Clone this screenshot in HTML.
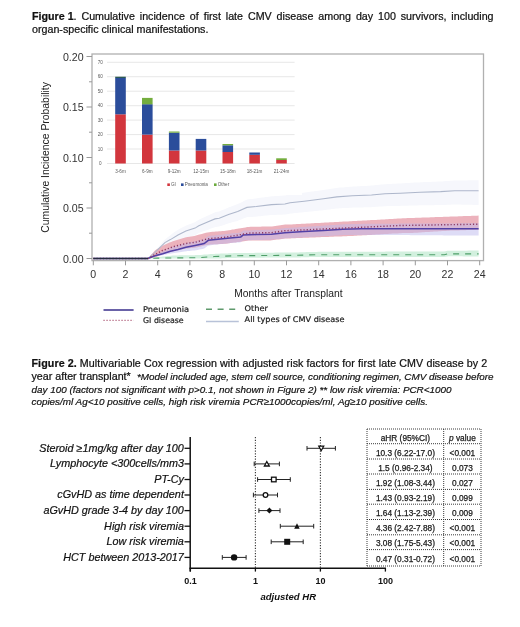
<!DOCTYPE html>
<html><head><meta charset="utf-8"><style>
html,body{margin:0;padding:0;background:#fff;}
svg{display:block;}
text{font-family:"Liberation Sans",Arial,sans-serif;fill:#222;}
.cap{font-size:10.7px;fill:#111;stroke:#111;stroke-width:0.22px;}
.it{font-size:9.9px;font-style:italic;fill:#111;stroke:#111;stroke-width:0.2px;}
.ax{font-size:10.6px;fill:#333;}
.ax2{font-size:10.7px;fill:#222;}
.lg{font-family:"DejaVu Sans",sans-serif;font-size:7.9px;fill:#1c1c1c;stroke:#1c1c1c;stroke-width:0.2px;}
.tiny{font-size:4.6px;fill:#5a5a5a;}
.fl{font-size:10.8px;font-style:italic;fill:#111;stroke:#111;stroke-width:0.2px;}
.fx{font-size:9px;font-weight:bold;fill:#111;}
.fxl{font-size:9.3px;font-weight:bold;font-style:italic;fill:#111;}
.tb{font-size:8.3px;fill:#1a1a1a;stroke:#1a1a1a;stroke-width:0.25px;}
</style></head><body>
<svg width="520" height="627" viewBox="0 0 520 627">
<path d="M148.0,258.5 L149.7,256.7 L151.3,255.0 L153.0,253.2 L154.7,251.4 L156.3,249.5 L158.0,247.6 L159.6,245.6 L161.3,243.7 L162.9,241.7 L164.6,239.8 L166.2,238.4 L167.9,237.1 L169.5,235.9 L171.2,234.6 L172.8,233.3 L174.5,232.0 L176.1,231.0 L177.8,229.9 L179.4,229.0 L181.1,228.1 L182.7,227.3 L184.4,226.4 L186.1,225.6 L187.7,225.0 L189.4,224.3 L191.0,223.7 L192.7,223.1 L194.3,222.5 L196.0,221.6 L197.6,220.5 L199.3,219.5 L200.9,218.7 L202.6,218.0 L204.2,217.3 L205.9,216.5 L207.5,215.8 L209.2,215.0 L210.8,214.2 L212.5,213.5 L214.1,212.7 L215.8,212.1 L217.5,211.8 L219.1,211.5 L220.8,210.8 L222.4,210.1 L224.1,209.4 L225.7,208.7 L227.4,208.0 L229.0,207.3 L230.7,206.7 L232.3,206.1 L234.0,205.5 L235.6,204.8 L237.3,204.2 L238.9,203.5 L240.6,202.7 L242.2,201.9 L243.9,201.1 L245.5,200.3 L247.2,199.6 L248.9,199.3 L250.5,199.1 L252.2,198.9 L253.8,198.7 L255.5,198.5 L257.1,198.3 L258.8,198.0 L260.4,197.8 L262.1,197.6 L263.7,197.4 L265.4,197.1 L267.0,196.9 L268.7,196.7 L270.3,196.5 L272.0,196.3 L273.6,196.2 L275.3,196.1 L276.9,196.0 L278.6,195.9 L280.3,195.8 L281.9,195.7 L283.6,195.6 L285.2,195.5 L286.9,195.1 L288.5,194.7 L290.2,194.4 L291.8,194.1 L293.5,193.9 L295.1,193.7 L296.8,193.5 L298.4,193.3 L300.1,193.1 L301.7,192.9 L303.4,192.7 L305.0,192.5 L306.7,192.3 L308.3,192.0 L310.0,191.8 L311.7,191.6 L313.3,191.4 L315.0,191.1 L316.6,190.9 L318.3,190.7 L319.9,190.4 L321.6,190.2 L323.2,190.0 L324.9,189.7 L326.5,189.5 L328.2,189.2 L329.8,189.0 L331.5,188.7 L333.1,188.5 L334.8,188.2 L336.4,188.0 L338.1,187.8 L339.7,187.6 L341.4,187.5 L343.1,187.4 L344.7,187.2 L346.4,187.1 L348.0,187.0 L349.7,186.8 L351.3,186.7 L353.0,186.6 L354.6,186.5 L356.3,186.4 L357.9,186.3 L359.6,186.2 L361.2,186.1 L362.9,186.0 L364.5,185.9 L366.2,185.9 L367.8,185.8 L369.5,185.7 L371.1,185.6 L372.8,185.4 L374.5,185.3 L376.1,185.1 L377.8,184.9 L379.4,184.8 L381.1,184.6 L382.7,184.4 L384.4,184.3 L386.0,184.2 L387.7,184.1 L389.3,184.0 L391.0,183.9 L392.6,183.8 L394.3,183.7 L395.9,183.7 L397.6,183.6 L399.2,183.5 L400.9,183.4 L402.6,183.3 L404.2,183.2 L405.9,183.1 L407.5,183.0 L409.2,182.9 L410.8,182.8 L412.5,182.7 L414.1,182.6 L415.8,182.6 L417.4,182.5 L419.1,182.4 L420.7,182.3 L422.4,182.2 L424.0,182.1 L425.7,182.1 L427.3,182.0 L429.0,181.9 L430.6,181.9 L432.3,181.8 L434.0,181.7 L435.6,181.7 L437.3,181.6 L438.9,181.5 L440.6,181.5 L442.2,181.4 L443.9,181.2 L445.5,181.1 L447.2,181.0 L448.8,180.9 L450.5,180.8 L452.1,180.7 L453.8,180.6 L455.4,180.5 L457.1,180.5 L458.7,180.5 L460.4,180.4 L462.0,180.4 L463.7,180.4 L465.4,180.4 L467.0,180.4 L468.7,180.3 L470.3,180.3 L472.0,180.3 L473.6,180.3 L475.3,180.3 L476.9,180.3 L478.6,180.2 L478.6,204.9 L476.9,204.9 L475.3,204.9 L473.6,204.9 L472.0,204.8 L470.3,204.8 L468.7,204.8 L467.0,204.7 L465.4,204.7 L463.7,204.7 L462.0,204.7 L460.4,204.6 L458.7,204.6 L457.1,204.6 L455.4,204.5 L453.8,204.6 L452.1,204.6 L450.5,204.7 L448.8,204.8 L447.2,204.8 L445.5,204.9 L443.9,204.9 L442.2,205.0 L440.6,205.1 L438.9,205.1 L437.3,205.1 L435.6,205.1 L434.0,205.2 L432.3,205.2 L430.6,205.2 L429.0,205.2 L427.3,205.2 L425.7,205.3 L424.0,205.3 L422.4,205.3 L420.7,205.3 L419.1,205.3 L417.4,205.4 L415.8,205.4 L414.1,205.5 L412.5,205.5 L410.8,205.6 L409.2,205.6 L407.5,205.7 L405.9,205.7 L404.2,205.8 L402.6,205.8 L400.9,205.8 L399.2,205.9 L397.6,205.9 L395.9,206.0 L394.3,206.0 L392.6,206.0 L391.0,206.1 L389.3,206.1 L387.7,206.1 L386.0,206.2 L384.4,206.2 L382.7,206.4 L381.1,206.5 L379.4,206.6 L377.8,206.7 L376.1,206.8 L374.5,207.0 L372.8,207.1 L371.1,207.2 L369.5,207.2 L367.8,207.3 L366.2,207.3 L364.5,207.3 L362.9,207.4 L361.2,207.4 L359.6,207.5 L357.9,207.5 L356.3,207.5 L354.6,207.6 L353.0,207.6 L351.3,207.7 L349.7,207.8 L348.0,207.9 L346.4,208.0 L344.7,208.0 L343.1,208.1 L341.4,208.2 L339.7,208.3 L338.1,208.4 L336.4,208.5 L334.8,208.7 L333.1,208.9 L331.5,209.1 L329.8,209.4 L328.2,209.6 L326.5,209.8 L324.9,210.0 L323.2,210.2 L321.6,210.4 L319.9,210.5 L318.3,210.7 L316.6,210.9 L315.0,211.1 L313.3,211.2 L311.7,211.4 L310.0,211.6 L308.3,211.8 L306.7,212.0 L305.0,212.1 L303.4,212.3 L301.7,212.5 L300.1,212.6 L298.4,212.8 L296.8,212.9 L295.1,213.1 L293.5,213.3 L291.8,213.4 L290.2,213.6 L288.5,213.9 L286.9,214.2 L285.2,214.5 L283.6,214.6 L281.9,214.7 L280.3,214.7 L278.6,214.8 L276.9,214.8 L275.3,214.9 L273.6,214.9 L272.0,215.0 L270.3,215.1 L268.7,215.3 L267.0,215.5 L265.4,215.6 L263.7,215.8 L262.1,216.0 L260.4,216.2 L258.8,216.3 L257.1,216.5 L255.5,216.7 L253.8,216.8 L252.2,216.9 L250.5,217.0 L248.9,217.0 L247.2,217.1 L245.5,217.7 L243.9,218.3 L242.2,219.0 L240.6,219.7 L238.9,220.3 L237.3,220.9 L235.6,221.4 L234.0,221.8 L232.3,222.3 L230.7,222.8 L229.0,223.2 L227.4,223.8 L225.7,224.3 L224.1,224.9 L222.4,225.5 L220.8,226.0 L219.1,226.6 L217.5,226.7 L215.8,226.9 L214.1,227.4 L212.5,228.0 L210.8,228.6 L209.2,229.2 L207.5,229.9 L205.9,230.5 L204.2,231.0 L202.6,231.6 L200.9,232.2 L199.3,232.8 L197.6,233.7 L196.0,234.7 L194.3,235.4 L192.7,235.9 L191.0,236.4 L189.4,236.8 L187.7,237.3 L186.1,237.7 L184.4,238.4 L182.7,239.2 L181.1,239.9 L179.4,240.6 L177.8,241.3 L176.1,242.3 L174.5,243.2 L172.8,244.0 L171.2,244.6 L169.5,245.2 L167.9,245.7 L166.2,246.2 L164.6,246.9 L162.9,248.1 L161.3,249.4 L159.6,250.6 L158.0,251.8 L156.3,253.1 L154.7,254.3 L153.0,255.3 L151.3,256.4 L149.7,257.4 L148.0,258.5 Z" fill="#f6f7fc"/>
<path d="M148.0,258.5 L149.7,256.6 L151.3,254.6 L153.0,252.7 L154.7,250.8 L156.3,249.6 L158.0,248.6 L159.6,247.5 L161.3,246.5 L162.9,245.5 L164.6,244.8 L166.2,244.1 L167.9,243.3 L169.5,242.6 L171.2,241.9 L172.8,241.3 L174.5,240.7 L176.1,240.2 L177.8,239.7 L179.4,239.2 L181.1,238.7 L182.7,238.2 L184.4,237.7 L186.1,237.2 L187.7,237.0 L189.4,236.7 L191.0,236.4 L192.7,236.2 L194.3,235.9 L196.0,235.5 L197.6,235.1 L199.3,234.6 L200.9,234.2 L202.6,233.7 L204.2,233.3 L205.9,232.8 L207.5,232.5 L209.2,232.2 L210.8,232.0 L212.5,231.8 L214.1,231.7 L215.8,231.6 L217.5,231.4 L219.1,231.3 L220.8,231.2 L222.4,231.0 L224.1,230.9 L225.7,230.7 L227.4,230.4 L229.0,230.2 L230.7,229.9 L232.3,229.6 L234.0,229.4 L235.6,229.1 L237.3,228.8 L238.9,228.5 L240.6,228.3 L242.2,228.0 L243.9,227.7 L245.5,227.4 L247.2,227.1 L248.9,226.9 L250.5,226.8 L252.2,226.8 L253.8,226.8 L255.5,226.8 L257.1,226.7 L258.8,226.7 L260.4,226.7 L262.1,226.6 L263.7,226.6 L265.4,226.6 L267.0,226.6 L268.7,226.5 L270.3,226.5 L272.0,226.4 L273.6,226.2 L275.3,226.0 L276.9,225.7 L278.6,225.5 L280.3,225.3 L281.9,225.1 L283.6,224.8 L285.2,224.6 L286.9,224.6 L288.5,224.5 L290.2,224.5 L291.8,224.4 L293.5,224.3 L295.1,224.2 L296.8,224.1 L298.4,224.0 L300.1,223.9 L301.7,223.8 L303.4,223.7 L305.0,223.7 L306.7,223.6 L308.3,223.5 L310.0,223.4 L311.7,223.3 L313.3,223.2 L315.0,223.1 L316.6,223.0 L318.3,223.0 L319.9,222.9 L321.6,222.8 L323.2,222.7 L324.9,222.6 L326.5,222.5 L328.2,222.4 L329.8,222.3 L331.5,222.3 L333.1,222.2 L334.8,222.1 L336.4,222.0 L338.1,221.9 L339.7,221.8 L341.4,221.7 L343.1,221.6 L344.7,221.5 L346.4,221.5 L348.0,221.4 L349.7,221.3 L351.3,221.2 L353.0,221.1 L354.6,221.0 L356.3,220.9 L357.9,220.8 L359.6,220.8 L361.2,220.7 L362.9,220.6 L364.5,220.5 L366.2,220.4 L367.8,220.3 L369.5,220.2 L371.1,220.1 L372.8,220.1 L374.5,220.0 L376.1,219.9 L377.8,219.8 L379.4,219.7 L381.1,219.6 L382.7,219.5 L384.4,219.4 L386.0,219.3 L387.7,219.2 L389.3,219.1 L391.0,219.0 L392.6,218.9 L394.3,218.8 L395.9,218.7 L397.6,218.6 L399.2,218.4 L400.9,218.4 L402.6,218.3 L404.2,218.2 L405.9,218.2 L407.5,218.1 L409.2,218.1 L410.8,218.0 L412.5,217.9 L414.1,217.9 L415.8,217.8 L417.4,217.8 L419.1,217.7 L420.7,217.7 L422.4,217.6 L424.0,217.5 L425.7,217.5 L427.3,217.4 L429.0,217.4 L430.6,217.3 L432.3,217.2 L434.0,217.2 L435.6,217.1 L437.3,217.1 L438.9,217.0 L440.6,216.9 L442.2,216.9 L443.9,216.8 L445.5,216.8 L447.2,216.7 L448.8,216.7 L450.5,216.6 L452.1,216.5 L453.8,216.5 L455.4,216.4 L457.1,216.4 L458.7,216.3 L460.4,216.2 L462.0,216.2 L463.7,216.1 L465.4,216.1 L467.0,216.0 L468.7,215.9 L470.3,215.9 L472.0,215.8 L473.6,215.8 L475.3,215.7 L476.9,215.7 L478.6,215.6 L478.6,229.7 L476.9,229.8 L475.3,229.8 L473.6,229.9 L472.0,229.9 L470.3,230.0 L468.7,230.1 L467.0,230.1 L465.4,230.2 L463.7,230.2 L462.0,230.3 L460.4,230.3 L458.7,230.4 L457.1,230.4 L455.4,230.5 L453.8,230.5 L452.1,230.6 L450.5,230.6 L448.8,230.7 L447.2,230.8 L445.5,230.9 L443.9,231.0 L442.2,231.1 L440.6,231.2 L438.9,231.3 L437.3,231.4 L435.6,231.5 L434.0,231.6 L432.3,231.7 L430.6,231.8 L429.0,231.9 L427.3,232.0 L425.7,232.1 L424.0,232.2 L422.4,232.3 L420.7,232.4 L419.1,232.6 L417.4,232.7 L415.8,232.8 L414.1,232.8 L412.5,232.9 L410.8,232.9 L409.2,233.0 L407.5,233.0 L405.9,233.1 L404.2,233.1 L402.6,233.1 L400.9,233.2 L399.2,233.3 L397.6,233.4 L395.9,233.5 L394.3,233.6 L392.6,233.6 L391.0,233.7 L389.3,233.8 L387.7,233.9 L386.0,234.0 L384.4,234.1 L382.7,234.2 L381.1,234.3 L379.4,234.4 L377.8,234.5 L376.1,234.6 L374.5,234.7 L372.8,234.8 L371.1,234.9 L369.5,235.0 L367.8,235.1 L366.2,235.2 L364.5,235.2 L362.9,235.3 L361.2,235.4 L359.6,235.5 L357.9,235.6 L356.3,235.7 L354.6,235.8 L353.0,235.9 L351.3,236.0 L349.7,236.1 L348.0,236.1 L346.4,236.2 L344.7,236.3 L343.1,236.3 L341.4,236.4 L339.7,236.5 L338.1,236.5 L336.4,236.6 L334.8,236.6 L333.1,236.7 L331.5,236.8 L329.8,236.8 L328.2,236.9 L326.5,237.0 L324.9,237.0 L323.2,237.1 L321.6,237.1 L319.9,237.2 L318.3,237.3 L316.6,237.3 L315.0,237.4 L313.3,237.5 L311.7,237.5 L310.0,237.6 L308.3,237.7 L306.7,237.7 L305.0,237.8 L303.4,237.8 L301.7,237.9 L300.1,238.0 L298.4,238.0 L296.8,238.1 L295.1,238.2 L293.5,238.2 L291.8,238.3 L290.2,238.4 L288.5,238.4 L286.9,238.5 L285.2,238.5 L283.6,238.7 L281.9,238.9 L280.3,239.2 L278.6,239.4 L276.9,239.6 L275.3,239.8 L273.6,240.1 L272.0,240.3 L270.3,240.4 L268.7,240.4 L267.0,240.4 L265.4,240.4 L263.7,240.5 L262.1,240.5 L260.4,240.5 L258.8,240.5 L257.1,240.6 L255.5,240.6 L253.8,240.6 L252.2,240.6 L250.5,240.6 L248.9,240.5 L247.2,240.7 L245.5,241.0 L243.9,241.2 L242.2,241.5 L240.6,241.7 L238.9,241.9 L237.3,242.1 L235.6,242.4 L234.0,242.6 L232.3,242.8 L230.7,243.0 L229.0,243.3 L227.4,243.5 L225.7,243.7 L224.1,243.8 L222.4,243.9 L220.8,244.0 L219.1,244.1 L217.5,244.2 L215.8,244.3 L214.1,244.3 L212.5,244.4 L210.8,244.5 L209.2,244.7 L207.5,245.0 L205.9,245.2 L204.2,245.6 L202.6,246.0 L200.9,246.4 L199.3,246.8 L197.6,247.2 L196.0,247.6 L194.3,247.8 L192.7,248.0 L191.0,248.1 L189.4,248.2 L187.7,248.4 L186.1,248.5 L184.4,248.8 L182.7,249.2 L181.1,249.5 L179.4,249.9 L177.8,250.2 L176.1,250.6 L174.5,251.0 L172.8,251.4 L171.2,251.8 L169.5,252.3 L167.9,252.7 L166.2,253.1 L164.6,253.6 L162.9,254.0 L161.3,254.7 L159.6,255.4 L158.0,256.2 L156.3,256.9 L154.7,257.5 L153.0,257.8 L151.3,258.0 L149.7,258.3 L148.0,258.5 Z" fill="#ecb2bc"/>
<path d="M148.0,258.5 L149.7,257.6 L151.3,256.7 L153.0,255.8 L154.7,254.9 L156.3,254.1 L158.0,253.4 L159.6,252.7 L161.3,252.1 L162.9,251.3 L164.6,250.5 L166.2,249.7 L167.9,248.9 L169.5,248.2 L171.2,247.4 L172.8,246.8 L174.5,246.3 L176.1,245.9 L177.8,245.5 L179.4,245.0 L181.1,244.6 L182.7,244.1 L184.4,243.6 L186.1,243.2 L187.7,242.8 L189.4,242.4 L191.0,242.1 L192.7,241.7 L194.3,241.4 L196.0,241.0 L197.6,240.7 L199.3,240.3 L200.9,240.0 L202.6,239.6 L204.2,239.3 L205.9,238.0 L207.5,236.7 L209.2,236.0 L210.8,235.8 L212.5,235.6 L214.1,235.4 L215.8,235.2 L217.5,235.0 L219.1,234.8 L220.8,234.7 L222.4,234.5 L224.1,234.3 L225.7,234.1 L227.4,233.9 L229.0,233.7 L230.7,233.5 L232.3,233.3 L234.0,233.2 L235.6,233.0 L237.3,232.9 L238.9,232.7 L240.6,232.5 L242.2,231.3 L243.9,230.6 L245.5,230.6 L247.2,230.5 L248.9,230.4 L250.5,230.4 L252.2,230.3 L253.8,230.2 L255.5,230.1 L257.1,230.1 L258.8,230.0 L260.4,230.0 L262.1,229.9 L263.7,229.9 L265.4,229.8 L267.0,229.8 L268.7,229.7 L270.3,229.7 L272.0,229.6 L273.6,229.4 L275.3,229.2 L276.9,229.0 L278.6,228.9 L280.3,228.7 L281.9,228.5 L283.6,228.3 L285.2,228.1 L286.9,228.0 L288.5,227.9 L290.2,227.8 L291.8,227.7 L293.5,227.6 L295.1,227.5 L296.8,227.4 L298.4,227.2 L300.1,227.1 L301.7,227.0 L303.4,226.9 L305.0,226.8 L306.7,226.7 L308.3,226.6 L310.0,226.5 L311.7,226.4 L313.3,226.3 L315.0,226.2 L316.6,226.1 L318.3,226.0 L319.9,225.9 L321.6,225.8 L323.2,225.7 L324.9,225.5 L326.5,225.4 L328.2,225.3 L329.8,225.2 L331.5,225.1 L333.1,225.0 L334.8,224.9 L336.4,224.8 L338.1,224.7 L339.7,224.5 L341.4,224.4 L343.1,224.3 L344.7,224.3 L346.4,224.2 L348.0,224.2 L349.7,224.2 L351.3,224.1 L353.0,224.1 L354.6,224.0 L356.3,224.0 L357.9,223.9 L359.6,223.9 L361.2,223.9 L362.9,223.8 L364.5,223.8 L366.2,223.8 L367.8,223.8 L369.5,223.8 L371.1,223.8 L372.8,223.8 L374.5,223.8 L376.1,223.8 L377.8,223.8 L379.4,223.7 L381.1,223.7 L382.7,223.7 L384.4,223.7 L386.0,223.7 L387.7,223.7 L389.3,223.7 L391.0,223.7 L392.6,223.7 L394.3,223.7 L395.9,223.7 L397.6,223.7 L399.2,223.6 L400.9,223.6 L402.6,223.6 L404.2,223.6 L405.9,223.6 L407.5,223.6 L409.2,223.6 L410.8,223.6 L412.5,223.6 L414.1,223.6 L415.8,223.6 L417.4,223.6 L419.1,223.6 L420.7,223.5 L422.4,223.5 L424.0,223.5 L425.7,223.5 L427.3,223.5 L429.0,223.5 L430.6,223.5 L432.3,223.5 L434.0,223.5 L435.6,223.5 L437.3,223.5 L438.9,223.5 L440.6,223.4 L442.2,223.4 L443.9,223.4 L445.5,223.4 L447.2,223.4 L448.8,223.4 L450.5,223.4 L452.1,223.4 L453.8,223.4 L455.4,223.4 L457.1,223.4 L458.7,223.4 L460.4,223.3 L462.0,223.3 L463.7,223.3 L465.4,223.3 L467.0,223.3 L468.7,223.3 L470.3,223.3 L472.0,223.3 L473.6,223.3 L475.3,223.3 L476.9,223.3 L478.6,223.3 L478.6,235.6 L476.9,235.6 L475.3,235.5 L473.6,235.5 L472.0,235.5 L470.3,235.5 L468.7,235.5 L467.0,235.5 L465.4,235.5 L463.7,235.5 L462.0,235.5 L460.4,235.5 L458.7,235.4 L457.1,235.4 L455.4,235.4 L453.8,235.4 L452.1,235.4 L450.5,235.4 L448.8,235.4 L447.2,235.4 L445.5,235.4 L443.9,235.4 L442.2,235.3 L440.6,235.3 L438.9,235.3 L437.3,235.3 L435.6,235.3 L434.0,235.3 L432.3,235.3 L430.6,235.3 L429.0,235.3 L427.3,235.3 L425.7,235.2 L424.0,235.2 L422.4,235.2 L420.7,235.2 L419.1,235.2 L417.4,235.2 L415.8,235.2 L414.1,235.2 L412.5,235.2 L410.8,235.2 L409.2,235.1 L407.5,235.1 L405.9,235.1 L404.2,235.1 L402.6,235.1 L400.9,235.1 L399.2,235.1 L397.6,235.1 L395.9,235.1 L394.3,235.1 L392.6,235.0 L391.0,235.0 L389.3,235.0 L387.7,235.0 L386.0,235.0 L384.4,235.0 L382.7,235.0 L381.1,235.0 L379.4,235.0 L377.8,235.0 L376.1,234.9 L374.5,234.9 L372.8,234.9 L371.1,234.9 L369.5,234.9 L367.8,234.9 L366.2,234.9 L364.5,234.9 L362.9,234.9 L361.2,234.9 L359.6,234.9 L357.9,234.9 L356.3,234.9 L354.6,235.0 L353.0,235.0 L351.3,235.0 L349.7,235.0 L348.0,235.1 L346.4,235.1 L344.7,235.1 L343.1,235.1 L341.4,235.2 L339.7,235.3 L338.1,235.4 L336.4,235.5 L334.8,235.6 L333.1,235.7 L331.5,235.8 L329.8,235.9 L328.2,236.0 L326.5,236.1 L324.9,236.2 L323.2,236.3 L321.6,236.3 L319.9,236.4 L318.3,236.5 L316.6,236.6 L315.0,236.7 L313.3,236.8 L311.7,236.9 L310.0,236.9 L308.3,237.0 L306.7,237.1 L305.0,237.2 L303.4,237.3 L301.7,237.4 L300.1,237.5 L298.4,237.6 L296.8,237.7 L295.1,237.8 L293.5,237.9 L291.8,237.9 L290.2,238.0 L288.5,238.1 L286.9,238.2 L285.2,238.3 L283.6,238.5 L281.9,238.6 L280.3,238.8 L278.6,239.0 L276.9,239.1 L275.3,239.3 L273.6,239.5 L272.0,239.6 L270.3,239.7 L268.7,239.7 L267.0,239.8 L265.4,239.8 L263.7,239.8 L262.1,239.9 L260.4,239.9 L258.8,239.9 L257.1,240.0 L255.5,240.0 L253.8,240.1 L252.2,240.1 L250.5,240.2 L248.9,240.2 L247.2,240.3 L245.5,240.3 L243.9,240.4 L242.2,241.0 L240.6,242.2 L238.9,242.4 L237.3,242.5 L235.6,242.7 L234.0,242.8 L232.3,243.0 L230.7,243.1 L229.0,243.3 L227.4,243.4 L225.7,243.6 L224.1,243.8 L222.4,244.0 L220.8,244.1 L219.1,244.3 L217.5,244.5 L215.8,244.7 L214.1,244.8 L212.5,245.0 L210.8,245.2 L209.2,245.4 L207.5,246.0 L205.9,247.3 L204.2,248.6 L202.6,248.9 L200.9,249.2 L199.3,249.6 L197.6,249.9 L196.0,250.2 L194.3,250.5 L192.7,250.6 L191.0,250.8 L189.4,250.9 L187.7,251.1 L186.1,251.2 L184.4,251.5 L182.7,251.8 L181.1,252.0 L179.4,252.3 L177.8,252.6 L176.1,252.8 L174.5,253.0 L172.8,253.2 L171.2,253.4 L169.5,253.7 L167.9,254.1 L166.2,254.4 L164.6,254.8 L162.9,255.2 L161.3,255.5 L159.6,255.7 L158.0,256.0 L156.3,256.3 L154.7,256.6 L153.0,257.0 L151.3,257.5 L149.7,258.0 L148.0,258.5 Z" fill="#bdbaee" fill-opacity="0.5"/>
<path d="M148.0,258.5 L149.7,258.3 L151.3,258.0 L153.0,257.8 L154.7,257.6 L156.3,257.3 L158.0,257.1 L159.6,256.9 L161.3,256.8 L162.9,256.6 L164.6,256.4 L166.2,256.2 L167.9,256.0 L169.5,255.9 L171.2,255.7 L172.8,255.5 L174.5,255.4 L176.1,255.4 L177.8,255.4 L179.4,255.3 L181.1,255.3 L182.7,255.3 L184.4,255.3 L186.1,255.3 L187.7,255.2 L189.4,255.2 L191.0,255.2 L192.7,255.2 L194.3,255.2 L196.0,255.1 L197.6,255.1 L199.3,255.0 L200.9,254.9 L202.6,254.8 L204.2,254.6 L205.9,254.5 L207.5,254.4 L209.2,254.2 L210.8,254.1 L212.5,254.0 L214.1,253.9 L215.8,253.8 L217.5,253.7 L219.1,253.7 L220.8,253.6 L222.4,253.6 L224.1,253.5 L225.7,253.4 L227.4,253.4 L229.0,253.3 L230.7,253.3 L232.3,253.2 L234.0,253.1 L235.6,253.1 L237.3,253.0 L238.9,253.0 L240.6,253.0 L242.2,253.0 L243.9,252.9 L245.5,252.9 L247.2,252.9 L248.9,252.9 L250.5,252.9 L252.2,252.9 L253.8,252.9 L255.5,252.8 L257.1,252.8 L258.8,252.8 L260.4,252.8 L262.1,252.8 L263.7,252.8 L265.4,252.7 L267.0,252.7 L268.7,252.7 L270.3,252.7 L272.0,252.7 L273.6,252.7 L275.3,252.6 L276.9,252.6 L278.6,252.6 L280.3,252.6 L281.9,252.6 L283.6,252.6 L285.2,252.6 L286.9,252.5 L288.5,252.5 L290.2,252.5 L291.8,252.5 L293.5,252.5 L295.1,252.4 L296.8,252.4 L298.4,252.4 L300.1,252.3 L301.7,252.3 L303.4,252.2 L305.0,252.2 L306.7,252.1 L308.3,252.1 L310.0,252.0 L311.7,252.0 L313.3,251.9 L315.0,251.9 L316.6,251.9 L318.3,251.8 L319.9,251.8 L321.6,251.8 L323.2,251.8 L324.9,251.8 L326.5,251.8 L328.2,251.8 L329.8,251.8 L331.5,251.8 L333.1,251.8 L334.8,251.8 L336.4,251.8 L338.1,251.8 L339.7,251.8 L341.4,251.7 L343.1,251.7 L344.7,251.7 L346.4,251.7 L348.0,251.7 L349.7,251.7 L351.3,251.7 L353.0,251.7 L354.6,251.7 L356.3,251.7 L357.9,251.7 L359.6,251.7 L361.2,251.7 L362.9,251.7 L364.5,251.7 L366.2,251.7 L367.8,251.7 L369.5,251.7 L371.1,251.7 L372.8,251.7 L374.5,251.7 L376.1,251.7 L377.8,251.7 L379.4,251.7 L381.1,251.7 L382.7,251.7 L384.4,251.7 L386.0,251.6 L387.7,251.6 L389.3,251.6 L391.0,251.6 L392.6,251.6 L394.3,251.6 L395.9,251.6 L397.6,251.6 L399.2,251.6 L400.9,251.6 L402.6,251.6 L404.2,251.6 L405.9,251.6 L407.5,251.6 L409.2,251.6 L410.8,251.6 L412.5,251.6 L414.1,251.6 L415.8,251.6 L417.4,251.6 L419.1,251.6 L420.7,251.6 L422.4,251.6 L424.0,251.6 L425.7,251.6 L427.3,251.6 L429.0,251.5 L430.6,251.5 L432.3,251.5 L434.0,251.5 L435.6,251.5 L437.3,251.5 L438.9,251.5 L440.6,251.5 L442.2,251.5 L443.9,251.5 L445.5,251.2 L447.2,250.8 L448.8,250.7 L450.5,250.7 L452.1,250.7 L453.8,250.7 L455.4,250.7 L457.1,250.7 L458.7,250.7 L460.4,250.7 L462.0,250.7 L463.7,250.7 L465.4,250.7 L467.0,250.7 L468.7,250.6 L470.3,250.6 L472.0,250.6 L473.6,250.6 L475.3,250.6 L476.9,250.6 L478.6,250.6 L478.6,256.4 L476.9,256.4 L475.3,256.4 L473.6,256.4 L472.0,256.4 L470.3,256.4 L468.7,256.4 L467.0,256.4 L465.4,256.4 L463.7,256.4 L462.0,256.3 L460.4,256.3 L458.7,256.3 L457.1,256.3 L455.4,256.3 L453.8,256.3 L452.1,256.3 L450.5,256.3 L448.8,256.3 L447.2,256.4 L445.5,256.8 L443.9,257.1 L442.2,257.1 L440.6,257.1 L438.9,257.1 L437.3,257.1 L435.6,257.1 L434.0,257.1 L432.3,257.1 L430.6,257.1 L429.0,257.1 L427.3,257.1 L425.7,257.1 L424.0,257.1 L422.4,257.1 L420.7,257.1 L419.1,257.1 L417.4,257.1 L415.8,257.1 L414.1,257.1 L412.5,257.1 L410.8,257.1 L409.2,257.1 L407.5,257.1 L405.9,257.1 L404.2,257.1 L402.6,257.1 L400.9,257.1 L399.2,257.1 L397.6,257.1 L395.9,257.0 L394.3,257.0 L392.6,257.0 L391.0,257.0 L389.3,257.0 L387.7,257.0 L386.0,257.0 L384.4,257.0 L382.7,257.0 L381.1,257.0 L379.4,257.0 L377.8,257.0 L376.1,257.0 L374.5,257.0 L372.8,257.0 L371.1,257.0 L369.5,257.0 L367.8,257.0 L366.2,257.0 L364.5,257.0 L362.9,257.0 L361.2,257.0 L359.6,257.0 L357.9,257.0 L356.3,257.0 L354.6,257.0 L353.0,257.0 L351.3,257.0 L349.7,257.0 L348.0,257.0 L346.4,257.0 L344.7,257.0 L343.1,257.0 L341.4,257.0 L339.7,257.0 L338.1,257.0 L336.4,257.0 L334.8,256.9 L333.1,256.9 L331.5,256.9 L329.8,256.9 L328.2,256.9 L326.5,256.9 L324.9,256.9 L323.2,256.9 L321.6,256.9 L319.9,256.9 L318.3,256.9 L316.6,257.0 L315.0,257.0 L313.3,257.0 L311.7,257.1 L310.0,257.1 L308.3,257.2 L306.7,257.2 L305.0,257.2 L303.4,257.3 L301.7,257.3 L300.1,257.4 L298.4,257.4 L296.8,257.4 L295.1,257.5 L293.5,257.5 L291.8,257.5 L290.2,257.5 L288.5,257.5 L286.9,257.5 L285.2,257.5 L283.6,257.5 L281.9,257.6 L280.3,257.6 L278.6,257.6 L276.9,257.6 L275.3,257.6 L273.6,257.6 L272.0,257.6 L270.3,257.6 L268.7,257.6 L267.0,257.6 L265.4,257.6 L263.7,257.7 L262.1,257.7 L260.4,257.7 L258.8,257.7 L257.1,257.7 L255.5,257.7 L253.8,257.7 L252.2,257.7 L250.5,257.7 L248.9,257.7 L247.2,257.7 L245.5,257.8 L243.9,257.8 L242.2,257.8 L240.6,257.8 L238.9,257.8 L237.3,257.8 L235.6,257.9 L234.0,257.9 L232.3,258.0 L230.7,258.0 L229.0,258.1 L227.4,258.1 L225.7,258.2 L224.1,258.2 L222.4,258.3 L220.8,258.4 L219.1,258.4 L217.5,258.5 L215.8,258.5 L214.1,258.5 L212.5,258.5 L210.8,258.5 L209.2,258.5 L207.5,258.5 L205.9,258.5 L204.2,258.5 L202.6,258.5 L200.9,258.5 L199.3,258.5 L197.6,258.5 L196.0,258.5 L194.3,258.5 L192.7,258.5 L191.0,258.5 L189.4,258.5 L187.7,258.5 L186.1,258.5 L184.4,258.5 L182.7,258.5 L181.1,258.5 L179.4,258.5 L177.8,258.5 L176.1,258.5 L174.5,258.5 L172.8,258.5 L171.2,258.5 L169.5,258.5 L167.9,258.5 L166.2,258.5 L164.6,258.5 L162.9,258.5 L161.3,258.5 L159.6,258.5 L158.0,258.5 L156.3,258.5 L154.7,258.5 L153.0,258.5 L151.3,258.5 L149.7,258.5 L148.0,258.5 Z" fill="#d2f0de"/>
<path d="M93.3,258.5 L148.0,258.5 L155.0,252.4 L164.9,242.6 L170.4,239.6 L178.0,235.0 L185.9,231.1 L195.1,228.1 L198.8,225.7 L207.0,222.3 L215.0,218.9 L219.2,218.2 L228.5,214.6 L237.7,211.5 L246.9,207.4 L256.2,206.5 L271.5,204.6 L284.9,204.0 L290.0,202.8 L304.2,201.2 L323.5,198.8 L336.9,196.9 L352.3,195.8 L371.5,195.0 L385.0,193.8 L400.2,193.2 L420.1,192.2 L440.6,191.6 L454.7,190.8 L478.6,190.8" fill="none" stroke="#aeb7cb" stroke-width="1.1"/>
<path d="M93.3,258.5 L148.0,258.5 L157.7,258.1 L197.9,257.7 L214.1,256.5 L238.2,255.7 L294.6,255.3 L318.7,254.7 L444.3,254.7 L447.5,253.9 L478.6,253.9" fill="none" stroke="#4f9f69" stroke-width="1.15" stroke-dasharray="6 6"/>
<path d="M93.3,258.5 L148.0,258.5 L155.0,255.8 L162.7,253.8 L170.4,251.2 L178.0,249.5 L185.9,247.3 L195.1,245.4 L204.2,243.5 L208.3,240.3 L230.0,237.9 L240.8,236.9 L243.0,235.1 L256.2,234.6 L271.5,234.2 L284.9,232.7 L304.2,231.5 L323.5,230.4 L342.9,229.2 L361.8,228.8 L478.6,228.8" fill="none" stroke="#5240a6" stroke-width="1.5"/>
<path d="M93.3,258.5 L148.0,258.5 L155.0,254.5 L162.7,250.4 L174.1,246.5 L185.9,243.5 L195.1,242.3 L205.5,239.4 L210.0,238.5 L225.3,237.2 L240.8,234.6 L248.5,233.1 L271.5,232.6 L284.9,230.7 L290.0,230.5 L385.0,226.2 L400.2,225.5 L478.6,224.2" fill="none" stroke="#8e3a62" stroke-width="1.4" stroke-dasharray="1.2 2"/>
<line x1="93.3" y1="258.5" x2="148.0" y2="258.5" stroke="#262b40" stroke-width="1.4"/>
<rect x="92" y="54" width="391.5" height="206.6" fill="none" stroke="#b0b0b0" stroke-width="1.3"/>
<line x1="86.5" y1="258.5" x2="92" y2="258.5" stroke="#999" stroke-width="1"/>
<text x="83.6" y="262.8" class="ax" text-anchor="end">0.00</text>
<line x1="89" y1="233.2" x2="92" y2="233.2" stroke="#999" stroke-width="1"/>
<line x1="86.5" y1="208.0" x2="92" y2="208.0" stroke="#999" stroke-width="1"/>
<text x="83.6" y="212.3" class="ax" text-anchor="end">0.05</text>
<line x1="89" y1="182.8" x2="92" y2="182.8" stroke="#999" stroke-width="1"/>
<line x1="86.5" y1="157.5" x2="92" y2="157.5" stroke="#999" stroke-width="1"/>
<text x="83.6" y="161.8" class="ax" text-anchor="end">0.10</text>
<line x1="89" y1="132.2" x2="92" y2="132.2" stroke="#999" stroke-width="1"/>
<line x1="86.5" y1="107.0" x2="92" y2="107.0" stroke="#999" stroke-width="1"/>
<text x="83.6" y="111.3" class="ax" text-anchor="end">0.15</text>
<line x1="89" y1="81.8" x2="92" y2="81.8" stroke="#999" stroke-width="1"/>
<line x1="86.5" y1="56.5" x2="92" y2="56.5" stroke="#999" stroke-width="1"/>
<text x="83.6" y="60.8" class="ax" text-anchor="end">0.20</text>
<line x1="93.3" y1="260.6" x2="93.3" y2="265.3" stroke="#999" stroke-width="1"/>
<text x="93.3" y="278.3" class="ax" text-anchor="middle">0</text>
<line x1="125.5" y1="260.6" x2="125.5" y2="265.3" stroke="#999" stroke-width="1"/>
<text x="125.5" y="278.3" class="ax" text-anchor="middle">2</text>
<line x1="157.7" y1="260.6" x2="157.7" y2="265.3" stroke="#999" stroke-width="1"/>
<text x="157.7" y="278.3" class="ax" text-anchor="middle">4</text>
<line x1="189.9" y1="260.6" x2="189.9" y2="265.3" stroke="#999" stroke-width="1"/>
<text x="189.9" y="278.3" class="ax" text-anchor="middle">6</text>
<line x1="222.1" y1="260.6" x2="222.1" y2="265.3" stroke="#999" stroke-width="1"/>
<text x="222.1" y="278.3" class="ax" text-anchor="middle">8</text>
<line x1="254.3" y1="260.6" x2="254.3" y2="265.3" stroke="#999" stroke-width="1"/>
<text x="254.3" y="278.3" class="ax" text-anchor="middle">10</text>
<line x1="286.5" y1="260.6" x2="286.5" y2="265.3" stroke="#999" stroke-width="1"/>
<text x="286.5" y="278.3" class="ax" text-anchor="middle">12</text>
<line x1="318.7" y1="260.6" x2="318.7" y2="265.3" stroke="#999" stroke-width="1"/>
<text x="318.7" y="278.3" class="ax" text-anchor="middle">14</text>
<line x1="350.9" y1="260.6" x2="350.9" y2="265.3" stroke="#999" stroke-width="1"/>
<text x="350.9" y="278.3" class="ax" text-anchor="middle">16</text>
<line x1="383.1" y1="260.6" x2="383.1" y2="265.3" stroke="#999" stroke-width="1"/>
<text x="383.1" y="278.3" class="ax" text-anchor="middle">18</text>
<line x1="415.3" y1="260.6" x2="415.3" y2="265.3" stroke="#999" stroke-width="1"/>
<text x="415.3" y="278.3" class="ax" text-anchor="middle">20</text>
<line x1="447.5" y1="260.6" x2="447.5" y2="265.3" stroke="#999" stroke-width="1"/>
<text x="447.5" y="278.3" class="ax" text-anchor="middle">22</text>
<line x1="479.7" y1="260.6" x2="479.7" y2="265.3" stroke="#999" stroke-width="1"/>
<text x="479.7" y="278.3" class="ax" text-anchor="middle">24</text>
<text transform="translate(49.0,157.4) rotate(-90)" class="ax2" text-anchor="middle" textLength="150.6" lengthAdjust="spacingAndGlyphs">Cumulative Incidence Probability</text>
<text x="234.2" y="296.7" class="ax2" textLength="108.4" lengthAdjust="spacingAndGlyphs">Months after Transplant</text>
<line x1="103.5" y1="310" x2="133.6" y2="310" stroke="#443a92" stroke-width="1.6"/>
<line x1="103.5" y1="320.3" x2="133.6" y2="320.3" stroke="#a8506e" stroke-width="1.2" stroke-dasharray="1.1 1.9"/>
<text x="143" y="312.4" class="lg" textLength="46.2" lengthAdjust="spacingAndGlyphs">Pneumonia</text>
<text x="143" y="323.1" class="lg" textLength="40.7" lengthAdjust="spacingAndGlyphs">GI disease</text>
<line x1="206" y1="309.3" x2="236.3" y2="309.3" stroke="#5f9a6c" stroke-width="1.5" stroke-dasharray="6 5.6"/>
<line x1="206" y1="321.5" x2="238.8" y2="321.5" stroke="#b8c2d8" stroke-width="1.3"/>
<text x="244.6" y="311.3" class="lg" textLength="23.4" lengthAdjust="spacingAndGlyphs">Other</text>
<text x="244.6" y="321.8" class="lg" textLength="100" lengthAdjust="spacingAndGlyphs">All types of CMV disease</text>
<rect x="95" y="55" width="207" height="140" fill="#ffffff"/>
<line x1="107" y1="163.5" x2="294.6" y2="163.5" stroke="#dcdcdc" stroke-width="0.7"/>
<text x="100.3" y="165.2" class="tiny" text-anchor="middle">0</text>
<line x1="107" y1="149.0" x2="294.6" y2="149.0" stroke="#dcdcdc" stroke-width="0.7"/>
<text x="100.3" y="150.7" class="tiny" text-anchor="middle">10</text>
<line x1="107" y1="134.6" x2="294.6" y2="134.6" stroke="#dcdcdc" stroke-width="0.7"/>
<text x="100.3" y="136.3" class="tiny" text-anchor="middle">20</text>
<line x1="107" y1="120.1" x2="294.6" y2="120.1" stroke="#dcdcdc" stroke-width="0.7"/>
<text x="100.3" y="121.8" class="tiny" text-anchor="middle">30</text>
<line x1="107" y1="105.7" x2="294.6" y2="105.7" stroke="#dcdcdc" stroke-width="0.7"/>
<text x="100.3" y="107.4" class="tiny" text-anchor="middle">40</text>
<line x1="107" y1="91.2" x2="294.6" y2="91.2" stroke="#dcdcdc" stroke-width="0.7"/>
<text x="100.3" y="92.9" class="tiny" text-anchor="middle">50</text>
<line x1="107" y1="76.7" x2="294.6" y2="76.7" stroke="#dcdcdc" stroke-width="0.7"/>
<text x="100.3" y="78.4" class="tiny" text-anchor="middle">60</text>
<line x1="107" y1="62.3" x2="294.6" y2="62.3" stroke="#dcdcdc" stroke-width="0.7"/>
<text x="100.3" y="64.0" class="tiny" text-anchor="middle">70</text>
<rect x="115.2" y="114.3" width="10.6" height="49.2" fill="#d2363d"/>
<rect x="115.2" y="78.0" width="10.6" height="36.3" fill="#2b4d9b"/>
<rect x="115.2" y="76.7" width="10.6" height="1.3" fill="#2b5a55"/>
<text x="120.5" y="173" class="tiny" text-anchor="middle">3-6m</text>
<rect x="142.0" y="134.6" width="10.6" height="28.9" fill="#d2363d"/>
<rect x="142.0" y="104.2" width="10.6" height="30.4" fill="#2b4d9b"/>
<rect x="142.0" y="97.9" width="10.6" height="6.4" fill="#74ad3e"/>
<text x="147.3" y="173" class="tiny" text-anchor="middle">6-9m</text>
<rect x="168.9" y="150.5" width="10.6" height="13.0" fill="#d2363d"/>
<rect x="168.9" y="132.7" width="10.6" height="17.8" fill="#2b4d9b"/>
<rect x="168.9" y="131.5" width="10.6" height="1.2" fill="#74ad3e"/>
<text x="174.2" y="173" class="tiny" text-anchor="middle">9-12m</text>
<rect x="195.7" y="150.5" width="10.6" height="13.0" fill="#d2363d"/>
<rect x="195.7" y="138.9" width="10.6" height="11.6" fill="#2b4d9b"/>
<text x="201.0" y="173" class="tiny" text-anchor="middle">12-15m</text>
<rect x="222.5" y="151.9" width="10.6" height="11.6" fill="#d2363d"/>
<rect x="222.5" y="145.3" width="10.6" height="6.7" fill="#2b4d9b"/>
<rect x="222.5" y="144.0" width="10.6" height="1.3" fill="#74ad3e"/>
<text x="227.8" y="173" class="tiny" text-anchor="middle">15-18m</text>
<rect x="249.3" y="154.8" width="10.6" height="8.7" fill="#d2363d"/>
<rect x="249.3" y="152.5" width="10.6" height="2.3" fill="#2b4d9b"/>
<text x="254.6" y="173" class="tiny" text-anchor="middle">18-21m</text>
<rect x="276.2" y="160.0" width="10.6" height="3.5" fill="#d2363d"/>
<rect x="276.2" y="158.3" width="10.6" height="1.7" fill="#74ad3e"/>
<text x="281.5" y="173" class="tiny" text-anchor="middle">21-24m</text>
<rect x="167.3" y="183.4" width="2.6" height="2.6" fill="#d2363d"/><text x="171" y="186.2" class="tiny">GI</text>
<rect x="181" y="183.4" width="2.6" height="2.6" fill="#2b4d9b"/><text x="184.7" y="186.2" class="tiny">Pneumonia</text>
<rect x="214" y="183.4" width="2.6" height="2.6" fill="#6aaa3c"/><text x="217.7" y="186.2" class="tiny">Other</text>
<line x1="255.4" y1="437" x2="255.4" y2="568" stroke="#333" stroke-width="1.1" stroke-dasharray="1.2 1.5"/>
<line x1="320.4" y1="437" x2="320.4" y2="568" stroke="#333" stroke-width="1.1" stroke-dasharray="1.2 1.5"/>
<line x1="190.2" y1="437" x2="190.2" y2="571.5" stroke="#111" stroke-width="1.5"/>
<line x1="189.5" y1="568.3" x2="386" y2="568.3" stroke="#111" stroke-width="1.5"/>
<line x1="190.4" y1="568" x2="190.4" y2="571.6" stroke="#111" stroke-width="1.3"/>
<text x="190.4" y="583.8" class="fx" text-anchor="middle">0.1</text>
<line x1="255.4" y1="568" x2="255.4" y2="571.6" stroke="#111" stroke-width="1.3"/>
<text x="255.4" y="583.8" class="fx" text-anchor="middle">1</text>
<line x1="320.4" y1="568" x2="320.4" y2="571.6" stroke="#111" stroke-width="1.3"/>
<text x="320.4" y="583.8" class="fx" text-anchor="middle">10</text>
<line x1="385.4" y1="568" x2="385.4" y2="571.6" stroke="#111" stroke-width="1.3"/>
<text x="385.4" y="583.8" class="fx" text-anchor="middle">100</text>
<text x="260.4" y="599.8" class="fxl" textLength="55.7" lengthAdjust="spacingAndGlyphs">adjusted HR</text>
<line x1="184.5" y1="448.3" x2="190" y2="448.3" stroke="#111" stroke-width="1.3"/>
<text x="183.9" y="451.6" class="fl" text-anchor="end">Steroid ≥1mg/kg after day 100</text>
<line x1="307.0" y1="448.3" x2="335.4" y2="448.3" stroke="#222" stroke-width="1"/>
<line x1="307.0" y1="446.0" x2="307.0" y2="450.6" stroke="#222" stroke-width="1"/>
<line x1="335.4" y1="446.0" x2="335.4" y2="450.6" stroke="#222" stroke-width="1"/>
<path d="M318.8,446.2 L323.7,446.2 L321.2,450.7 Z" fill="#fff" stroke="#111" stroke-width="1.3"/>
<line x1="184.5" y1="463.9" x2="190" y2="463.9" stroke="#111" stroke-width="1.3"/>
<text x="183.9" y="467.2" class="fl" text-anchor="end">Lymphocyte &lt;300cells/mm3</text>
<line x1="254.2" y1="463.9" x2="279.4" y2="463.9" stroke="#222" stroke-width="1"/>
<line x1="254.2" y1="461.6" x2="254.2" y2="466.2" stroke="#222" stroke-width="1"/>
<line x1="279.4" y1="461.6" x2="279.4" y2="466.2" stroke="#222" stroke-width="1"/>
<path d="M264.4,466.0 L269.3,466.0 L266.8,461.5 Z" fill="#fff" stroke="#111" stroke-width="1.3"/>
<line x1="184.5" y1="479.5" x2="190" y2="479.5" stroke="#111" stroke-width="1.3"/>
<text x="183.9" y="482.8" class="fl" text-anchor="end">PT-Cy</text>
<line x1="257.6" y1="479.5" x2="290.3" y2="479.5" stroke="#222" stroke-width="1"/>
<line x1="257.6" y1="477.2" x2="257.6" y2="481.8" stroke="#222" stroke-width="1"/>
<line x1="290.3" y1="477.2" x2="290.3" y2="481.8" stroke="#222" stroke-width="1"/>
<rect x="271.5" y="477.2" width="4.6" height="4.6" fill="#fff" stroke="#111" stroke-width="1.3"/>
<line x1="184.5" y1="495.0" x2="190" y2="495.0" stroke="#111" stroke-width="1.3"/>
<text x="183.9" y="498.3" class="fl" text-anchor="end">cGvHD as time dependent</text>
<line x1="253.4" y1="495.0" x2="277.5" y2="495.0" stroke="#222" stroke-width="1"/>
<line x1="253.4" y1="492.7" x2="253.4" y2="497.3" stroke="#222" stroke-width="1"/>
<line x1="277.5" y1="492.7" x2="277.5" y2="497.3" stroke="#222" stroke-width="1"/>
<circle cx="265.5" cy="495.0" r="2.3" fill="#fff" stroke="#111" stroke-width="1.3"/>
<line x1="184.5" y1="510.6" x2="190" y2="510.6" stroke="#111" stroke-width="1.3"/>
<text x="183.9" y="513.9" class="fl" text-anchor="end">aGvHD grade 3-4 by day 100</text>
<line x1="258.9" y1="510.6" x2="280.0" y2="510.6" stroke="#222" stroke-width="1"/>
<line x1="258.9" y1="508.3" x2="258.9" y2="512.9" stroke="#222" stroke-width="1"/>
<line x1="280.0" y1="508.3" x2="280.0" y2="512.9" stroke="#222" stroke-width="1"/>
<path d="M269.4,507.6 L272.4,510.6 L269.4,513.6 L266.4,510.6 Z" fill="#111"/>
<line x1="184.5" y1="526.2" x2="190" y2="526.2" stroke="#111" stroke-width="1.3"/>
<text x="183.9" y="529.5" class="fl" text-anchor="end">High risk viremia</text>
<line x1="280.3" y1="526.2" x2="313.7" y2="526.2" stroke="#222" stroke-width="1"/>
<line x1="280.3" y1="523.9" x2="280.3" y2="528.5" stroke="#222" stroke-width="1"/>
<line x1="313.7" y1="523.9" x2="313.7" y2="528.5" stroke="#222" stroke-width="1"/>
<path d="M294.2,528.8 L299.7,528.8 L297.0,523.2 Z" fill="#111"/>
<line x1="184.5" y1="541.8" x2="190" y2="541.8" stroke="#111" stroke-width="1.3"/>
<text x="183.9" y="545.1" class="fl" text-anchor="end">Low risk viremia</text>
<line x1="271.2" y1="541.8" x2="303.2" y2="541.8" stroke="#222" stroke-width="1"/>
<line x1="271.2" y1="539.5" x2="271.2" y2="544.1" stroke="#222" stroke-width="1"/>
<line x1="303.2" y1="539.5" x2="303.2" y2="544.1" stroke="#222" stroke-width="1"/>
<rect x="284.2" y="538.8" width="6" height="6" fill="#111"/>
<line x1="184.5" y1="557.4" x2="190" y2="557.4" stroke="#111" stroke-width="1.3"/>
<text x="183.9" y="560.7" class="fl" text-anchor="end">HCT between 2013-2017</text>
<line x1="222.3" y1="557.4" x2="246.1" y2="557.4" stroke="#222" stroke-width="1"/>
<line x1="222.3" y1="555.1" x2="222.3" y2="559.7" stroke="#222" stroke-width="1"/>
<line x1="246.1" y1="555.1" x2="246.1" y2="559.7" stroke="#222" stroke-width="1"/>
<circle cx="234.1" cy="557.4" r="3.2" fill="#111"/>
<line x1="367.0" y1="429.0" x2="481.0" y2="429.0" stroke="#3a3a3a" stroke-width="1" stroke-dasharray="1 1"/>
<line x1="367.0" y1="443.7" x2="481.0" y2="443.7" stroke="#3a3a3a" stroke-width="1" stroke-dasharray="1 1"/>
<line x1="367.0" y1="459.0" x2="481.0" y2="459.0" stroke="#3a3a3a" stroke-width="1" stroke-dasharray="1 1"/>
<line x1="367.0" y1="474.0" x2="481.0" y2="474.0" stroke="#3a3a3a" stroke-width="1" stroke-dasharray="1 1"/>
<line x1="367.0" y1="489.4" x2="481.0" y2="489.4" stroke="#3a3a3a" stroke-width="1" stroke-dasharray="1 1"/>
<line x1="367.0" y1="504.2" x2="481.0" y2="504.2" stroke="#3a3a3a" stroke-width="1" stroke-dasharray="1 1"/>
<line x1="367.0" y1="519.5" x2="481.0" y2="519.5" stroke="#3a3a3a" stroke-width="1" stroke-dasharray="1 1"/>
<line x1="367.0" y1="534.8" x2="481.0" y2="534.8" stroke="#3a3a3a" stroke-width="1" stroke-dasharray="1 1"/>
<line x1="367.0" y1="549.6" x2="481.0" y2="549.6" stroke="#3a3a3a" stroke-width="1" stroke-dasharray="1 1"/>
<line x1="367.0" y1="566.0" x2="481.0" y2="566.0" stroke="#3a3a3a" stroke-width="1" stroke-dasharray="1 1"/>
<line x1="367.0" y1="429.0" x2="367.0" y2="566.0" stroke="#3a3a3a" stroke-width="1" stroke-dasharray="1 1"/>
<line x1="443.7" y1="429.0" x2="443.7" y2="566.0" stroke="#3a3a3a" stroke-width="1" stroke-dasharray="1 1"/>
<line x1="481.0" y1="429.0" x2="481.0" y2="566.0" stroke="#3a3a3a" stroke-width="1" stroke-dasharray="1 1"/>
<text x="405.4" y="440.5" class="tb" text-anchor="middle">aHR (95%CI)</text>
<text x="462.4" y="440.5" class="tb" text-anchor="middle"><tspan font-style="italic">p</tspan> value</text>
<text x="405.4" y="455.5" class="tb" text-anchor="middle">10.3 (6.22-17.0)</text>
<text x="462.4" y="455.5" class="tb" text-anchor="middle">&lt;0.001</text>
<text x="405.4" y="470.6" class="tb" text-anchor="middle">1.5 (0.96-2.34)</text>
<text x="462.4" y="470.6" class="tb" text-anchor="middle">0.073</text>
<text x="405.4" y="485.8" class="tb" text-anchor="middle">1.92 (1.08-3.44)</text>
<text x="462.4" y="485.8" class="tb" text-anchor="middle">0.027</text>
<text x="405.4" y="500.9" class="tb" text-anchor="middle">1.43 (0.93-2.19)</text>
<text x="462.4" y="500.9" class="tb" text-anchor="middle">0.099</text>
<text x="405.4" y="516.0" class="tb" text-anchor="middle">1.64 (1.13-2.39)</text>
<text x="462.4" y="516.0" class="tb" text-anchor="middle">0.009</text>
<text x="405.4" y="531.2" class="tb" text-anchor="middle">4.36 (2.42-7.88)</text>
<text x="462.4" y="531.2" class="tb" text-anchor="middle">&lt;0.001</text>
<text x="405.4" y="546.3" class="tb" text-anchor="middle">3.08 (1.75-5.43)</text>
<text x="462.4" y="546.3" class="tb" text-anchor="middle">&lt;0.001</text>
<text x="405.4" y="561.9" class="tb" text-anchor="middle">0.47 (0.31-0.72)</text>
<text x="462.4" y="561.9" class="tb" text-anchor="middle">&lt;0.001</text>
<text x="32" y="20" class="cap"><tspan font-weight="bold">Figure 1</tspan><tspan style="word-spacing:1.93px">. Cumulative incidence of first late CMV disease among day 100 survivors, including</tspan></text>
<text x="32" y="33" class="cap">organ-specific clinical manifestations.</text>
<text x="31.5" y="367.2" class="cap" textLength="455.8" lengthAdjust="spacing"><tspan font-weight="bold">Figure 2.</tspan> Multivariable Cox regression with adjusted risk factors for first late CMV disease by 2</text>
<text x="31.5" y="380.2" class="cap">year after transplant*</text><text x="137" y="380.2" class="it" textLength="356.5" lengthAdjust="spacing">*Model included age, stem cell source, conditioning regimen, CMV disease before</text>
<text x="31.5" y="392.8" class="it" textLength="420" lengthAdjust="spacing">day 100 (factors not significant with p&gt;0.1, not shown in Figure 2) ** low risk viremia: PCR&lt;1000</text>
<text x="31.5" y="405" class="it" textLength="396.4" lengthAdjust="spacing">copies/ml Ag&lt;10 positive cells, high risk viremia PCR≥1000copies/ml, Ag≥10 positive cells.</text>
</svg>
</body></html>
